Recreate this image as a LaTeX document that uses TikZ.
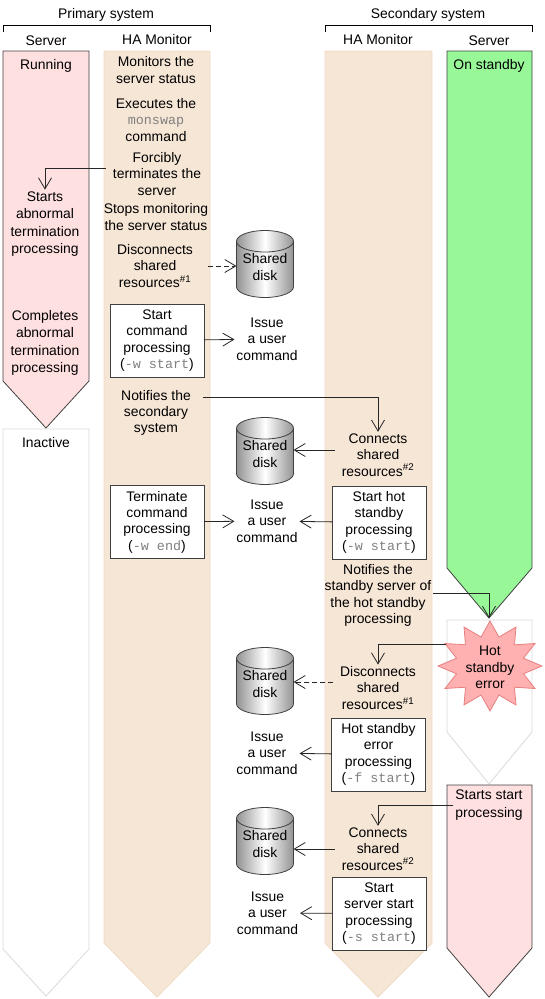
\documentclass[tikz,border=0pt]{standalone}
\usepackage{fontspec}
\setmainfont{Liberation Sans}
\setmonofont{Liberation Mono}
\usetikzlibrary{arrows.meta, positioning, shapes.geometric}
\definecolor{runpink}{HTML}{FFE0E0}
\definecolor{hatan}{HTML}{F6E6D6}
\definecolor{hatanline}{HTML}{F0DAC4}
\definecolor{standbygreen}{HTML}{98F898}
\definecolor{idleline}{HTML}{DADADA}
\definecolor{edgegray}{HTML}{404040}
\definecolor{cmdgray}{HTML}{808080}
\definecolor{errfill}{HTML}{FFB0B0}
\definecolor{errline}{HTML}{E88080}
\newcommand{\cmdtext}[1]{{\fontsize{13.4}{16.3}\selectfont\ttfamily\color{cmdgray}#1}}
\newcommand{\diskname}{\raisebox{1pt}[\height][\depth]{\begin{tabular}{@{}c@{}}Shared\\[0.7pt]disk\end{tabular}}}
\begin{document}
\begin{tikzpicture}[x=1pt, y=-1pt, node distance=32pt,
  txt/.style={align=center, inner sep=0pt, outer sep=2pt, font=\fontsize{13.9}{16.3}\selectfont},
  widetxt/.style={txt, font=\fontsize{13.9}{17.4}\selectfont},
  cmdbox/.style={txt, draw=edgegray, fill=white, line width=0.9pt, outer sep=0pt, minimum width=94pt, minimum height=73pt},
  disk/.style={txt, cylinder, anchor=shape center, shape border rotate=90, aspect=0.48, draw=edgegray, line width=0.8pt, left color=gray!85, right color=gray!85, middle color=white, outer sep=0pt, minimum width=57pt, minimum height=67pt},
  lanerun/.style={draw=edgegray, fill=runpink, line width=0.8pt},
  laneha/.style={draw=hatanline, fill=hatan, line width=0.8pt},
  lanegreen/.style={draw=edgegray, fill=standbygreen, line width=0.8pt},
  laneidle/.style={draw=idleline, fill=white, line width=0.8pt},
  flow/.style={-{Straight Barb[length=11pt,width=13pt]}, line width=0.8pt, draw=black!85},
  dashflow/.style={flow, dash pattern=on 5pt off 3pt}]
\useasboundingbox (0,0) rectangle (545,999);
\draw[lanerun] (3,51) -- (89,51) -- (89,381) -- (46,428) -- (3,381) -- cycle;
\draw[laneidle] (3,429) -- (89,429) -- (89,949) -- (46,996) -- (3,949) -- cycle;
\draw[laneha] (104,51) -- (210,51) -- (210,943) -- (157,997) -- (104,943) -- cycle;
\draw[laneha] (325,51) -- (432,51) -- (432,943) -- (378,997) -- (325,943) -- cycle;
\draw[lanegreen] (447,51) -- (532,51) -- (532,568) -- (489,618) coordinate (greentip) -- (447,568) -- cycle;
\draw[laneidle] (447,620) -- (532,620) -- (532,732) -- (489,784) -- (447,732) -- cycle;
\draw[lanerun] (447,785) -- (532,785) -- (532,948) -- (489,997) -- (447,948) -- cycle;
\draw[line width=0.8pt] (3,32) -- (3,25) -- (210,25) -- (210,32);
\draw[line width=0.8pt] (325,32) -- (325,25) -- (532,25) -- (532,32);
\node[txt] (primary) at (106,14.5) {Primary system};
\node[txt] (secondary) at (428,14.5) {Secondary system};
\node[txt] (server1) at (46,41) {Server};
\node[txt] (monitor1) at (157,40) {HA Monitor};
\node[txt] (monitor2) at (378,40) {HA Monitor};
\node[txt] (server2) at (489,41) {Server};
\node[txt] (running) at (46,66) {Running};
\node[widetxt] (abstart) at (45,224) {Starts\\abnormal\\termination\\processing};
\node[widetxt] (abend) at (45,343) {Completes\\abnormal\\termination\\processing};
\node[txt] (inactive) at (46,443) {Inactive};
\node[txt] (watch) at (156,70) {Monitors the\\server status};
\node[txt] (monswap) at (156,120) {Executes the\\\cmdtext{monswap}\\command};
\node[txt] (force) at (157,174) {Forcibly\\terminates the\\server};
\node[txt] (stopwatch) at (156,217) {Stops monitoring\\the server status};
\node[txt] (disc1) at (155,266) {Disconnects\\shared\\resources\textsuperscript{\#1}};
\node[cmdbox] (cmdstart) at (157,340.5) {Start\\command\\processing\\(\cmdtext{-w start})};
\node[txt] (notifysec) at (156,413) {Notifies the\\secondary\\system};
\node[cmdbox] (cmdend) at (157,522) {Terminate\\command\\processing\\(\cmdtext{-w end})};
\node[disk] (disk1) at (265,264) {\diskname};
\node[disk] (disk2) at (265,451) {\diskname};
\node[disk] (disk3) at (265,681) {\diskname};
\node[disk] (disk4) at (265,841) {\diskname};
\node[txt] (issue1) at (267,339) {Issue\\a user\\command};
\node[txt] (issue2) at (267,521) {Issue\\a user\\command};
\node[txt] (issue3) at (267,753) {Issue\\a user\\command};
\node[txt] (issue4) at (267.5,913) {Issue\\a user\\command};
\node[txt] (conn1) at (378,455) {Connects\\shared\\resources\textsuperscript{\#2}};
\node[cmdbox] (hotstart) at (379,522.5) {Start hot\\standby\\processing\\(\cmdtext{-w start})};
\node[txt] (notifystby) at (378,595.5) {Notifies the\\standby server of\\the hot standby\\processing};
\node[txt] (disc2) at (378,688) {Disconnects\\shared\\resources\textsuperscript{\#1}};
\node[cmdbox] (hoterr) at (378.5,754.5) {Hot standby\\error\\processing\\(\cmdtext{-f start})};
\node[txt] (conn2) at (378,849) {Connects\\shared\\resources\textsuperscript{\#2}};
\node[cmdbox] (srvstart) at (379,913.5) {Start\\server start\\processing\\(\cmdtext{-s start})};
\node[txt] (standby) at (489,66) {On standby};
\node[star, star points=12, star point ratio=1.5, draw=errline, fill=errfill, line width=0.8pt, minimum size=90pt, inner sep=0pt, xscale=1.155, transform shape] (errstar) at (490,666) {};
\node[txt] (errtext) at (490,667.5) {Hot\\standby\\error};
\node[widetxt] (startproc) at (489,805) {Starts start\\processing};
\draw[flow] ([shift={(-5pt,6pt)}]force.west) -| (abstart.north);
\draw[dashflow] ([xshift=13pt]disc1.east) -- (disk1.west |- disc1);
\draw[flow] (cmdstart) -- (issue1);
\draw[flow] ([shift={(10pt,16pt)}]notifysec.east) -| (conn1.north);
\draw[flow] ([shift={(-5pt,5pt)}]conn1.west) coordinate (connfrom) -- (disk2.east |- connfrom);
\draw[flow] (hotstart) -- (issue2);
\draw[flow] (cmdend) -- (issue2);
\draw[flow] ([yshift=2.5pt]notifystby.east) -| (greentip);
\draw[flow] ([shift={(9pt,22pt)}]errstar.west) -| (disc2.north);
\draw[dashflow] ([shift={(-5pt,6pt)}]disc2.west) coordinate (discfrom) -- (disk3.east |- discfrom);
\draw[flow] (hoterr) -- (issue3);
\draw[flow] (startproc.west) -| (conn2.north);
\draw[flow] ([xshift=-5pt]conn2.west) -- (disk4.east |- conn2);
\draw[flow] (srvstart) -- (issue4);
\end{tikzpicture}
\end{document}
